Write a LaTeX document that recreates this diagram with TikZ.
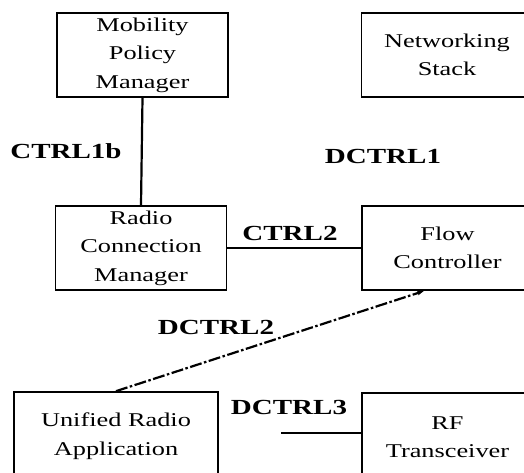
\documentclass[tikz,border=0pt]{standalone}
\usepackage{fontspec}
\setmainfont{Liberation Serif}
\newfontfamily\boxfont{Liberation Serif}[FakeStretch=1.35]
\usetikzlibrary{arrows.meta}

\tikzset{
    block/.style={draw, line width=1.7pt, minimum width=171pt, minimum height=84pt,
        inner sep=0pt, align=center, font=\boxfont\fontsize{19.5}{28.5}\selectfont},
    lbl/.style={inner sep=0pt, font=\boxfont\bfseries\fontsize{21.5}{21.5}\selectfont},
    link/.style={line width=2.2pt},
    dlink/.style={line width=2.2pt, dash pattern=on 12pt off 2.5pt on 2.5pt off 2.5pt,
        -{Latex[length=7pt,width=5pt]}}
}

\begin{document}
\begin{tikzpicture}[x=1pt,y=-1pt]
    \useasboundingbox (0,0) rectangle (524,473);
    \clip (0,0) rectangle (524,473);
    % boxes
    \node [block] (mpm) at (142.5,55) {Mobility\\Policy\\Manager};
    \node [block] (ns) at (447,55) {Networking\\Stack};
    \node [block] (rcm) at (141,248) {Radio\\Connection\\Manager};
    \node [block] (fc) at (447.5,248) {Flow\\Controller};
    \node [block, minimum width=204pt, minimum height=88pt] (ura) at (116,436) {Unified Radio\\Application};
    \node [block, minimum height=88pt] (rf) at (447.5,437) {RF\\Transceiver};
    % links
    \draw [link] (mpm.south) -- (rcm.north);
    \draw [link] (rcm.east) -- (fc.west);
    \coordinate (dc2) at ([xshift=-23pt]fc.south);
    \draw [dlink] (ura.north) -- (dc2);
    \coordinate (dc3) at (281,433);
    \draw [link] (dc3) -- (dc3 -| rf.west);
    % labels
    \node [lbl] (ctrl1b) at (66,151) {CTRL1b};
    \node [lbl] (dctrl1) at (383,156) {DCTRL1};
    \node [lbl] (ctrl2) at (290,233) {CTRL2};
    \node [lbl] (dctrl2) at (216,327) {DCTRL2};
    \node [lbl] (dctrl3) at (289,407) {DCTRL3};
\end{tikzpicture}
\end{document}
